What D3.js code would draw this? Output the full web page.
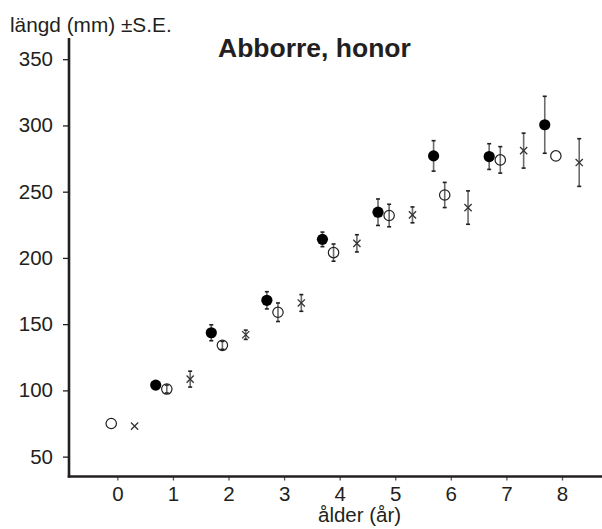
<!DOCTYPE html>
<html>
<head>
<meta charset="utf-8">
<script src="https://cdn.jsdelivr.net/npm/d3@7"></script>
<style>
  html, body { margin: 0; padding: 0; background: #fff; }
  text { font-family: "Liberation Sans", Arial, Helvetica, sans-serif; fill: #231f20; }
</style>
</head>
<body>
<svg id="chart" width="602" height="529"></svg>
<script>
// ---- data ----
const ages = [0, 1, 2, 3, 4, 5, 6, 7, 8];
const filledMean = [null, 104, 143.5, 168, 214, 234.5, 277, 276.5, 300.5];
const filledSE   = [null, 2, 6, 6.5, 5.5, 10, 11.5, 9.7, 21.5];
const openMean   = [75, 101, 134, 159, 204, 232, 247.5, 274, 277];
const openSE     = [null, 3, 3, 7, 6.5, 8.5, 9.5, 10, null];
const crossMean  = [73, 108.5, 142, 166, 211, 232.5, 238, 281, 272];
const crossSE    = [null, 6, 3.5, 6.3, 6.5, 6, 12.6, 13.2, 18];
const yTicks = [50, 100, 150, 200, 250, 300, 350];
const xTicks = [0, 1, 2, 3, 4, 5, 6, 7, 8];
const titleText = "Abborre, honor";
const yLabel = "längd (mm) ±S.E.";
const xLabel = "ålder (år)";

const svg = d3.select("#chart");
const x = d3.scaleLinear().domain([-0.87, 8.72]).range([69, 602]);
const y = d3.scaleLinear().domain([35, 366]).range([476.5, 38]);

// axes
const yAxis = svg.append("g").attr("transform", "translate(69,0)")
  .call(d3.axisLeft(y).tickValues(yTicks).tickSize(6).tickPadding(10));
yAxis.select(".domain").remove();
yAxis.selectAll(".tick line").attr("stroke", "#231f20").attr("stroke-width", 1.3);
yAxis.selectAll(".tick text").attr("font-size", 20.5).style("font-family", "Liberation Sans, Arial, sans-serif").attr("fill", "#231f20");

const xAxis = svg.append("g").attr("transform", "translate(0,476.5)")
  .call(d3.axisBottom(x).tickValues(xTicks).tickSize(4).tickPadding(6));
xAxis.select(".domain").remove();
xAxis.selectAll(".tick line").attr("stroke", "#555").attr("stroke-width", 1.3);
xAxis.selectAll(".tick text").attr("font-size", 20.5).style("font-family", "Liberation Sans, Arial, sans-serif").attr("fill", "#231f20");

// axis lines
svg.append("line").attr("x1", 69).attr("x2", 69).attr("y1", y(366)).attr("y2", 477.5)
  .attr("stroke", "#231f20").attr("stroke-width", 2.6);
svg.append("line").attr("x1", 67.7).attr("x2", 602).attr("y1", 476.5).attr("y2", 476.5)
  .attr("stroke", "#231f20").attr("stroke-width", 2.6);

// series definitions
const series = [
  { mean: filledMean, se: filledSE, off: -0.31, type: "filled" },
  { mean: openMean,   se: openSE,   off: -0.11, type: "open" },
  { mean: crossMean,  se: crossSE,  off: 0.31,  type: "cross" }
];

series.forEach(s => {
  const pts = ages.map((a, i) => ({ a, m: s.mean[i], e: s.se[i] })).filter(d => d.m != null);
  const g = svg.append("g");
  // error bars
  pts.filter(d => d.e != null).forEach(d => {
    const cx = x(d.a + s.off);
    g.append("line").attr("x1", cx).attr("x2", cx).attr("y1", y(d.m - d.e)).attr("y2", y(d.m + d.e))
      .attr("stroke", "#6b6b6b").attr("stroke-width", 1.6);
    [d.m - d.e, d.m + d.e].forEach(v => {
      g.append("line").attr("x1", cx - 2).attr("x2", cx + 2).attr("y1", y(v)).attr("y2", y(v))
        .attr("stroke", "#231f20").attr("stroke-width", 1.6);
    });
  });
  // markers
  pts.forEach(d => {
    const cx = x(d.a + s.off), cy = y(d.m);
    if (s.type === "filled") {
      g.append("circle").attr("cx", cx).attr("cy", cy).attr("r", 5.6).attr("fill", "#000");
    } else if (s.type === "open") {
      g.append("circle").attr("cx", cx).attr("cy", cy).attr("r", 5.2).attr("fill", "none")
        .attr("stroke", "#231f20").attr("stroke-width", 1.2);
    } else {
      const r = 3.6;
      g.append("path").attr("d", `M${cx - r},${cy - r}L${cx + r},${cy + r}M${cx - r},${cy + r}L${cx + r},${cy - r}`)
        .attr("stroke", "#333").attr("stroke-width", 1.3).attr("fill", "none");
    }
  });
});

// texts
svg.append("text").attr("x", 218).attr("y", 57).attr("font-size", 26.5).attr("font-weight", "bold").text(titleText);
svg.append("text").attr("x", 10).attr("y", 32).attr("font-size", 20.8).text(yLabel);
svg.append("text").attr("x", 318).attr("y", 522).attr("font-size", 20.5).text(xLabel);
</script>
</body>
</html>
